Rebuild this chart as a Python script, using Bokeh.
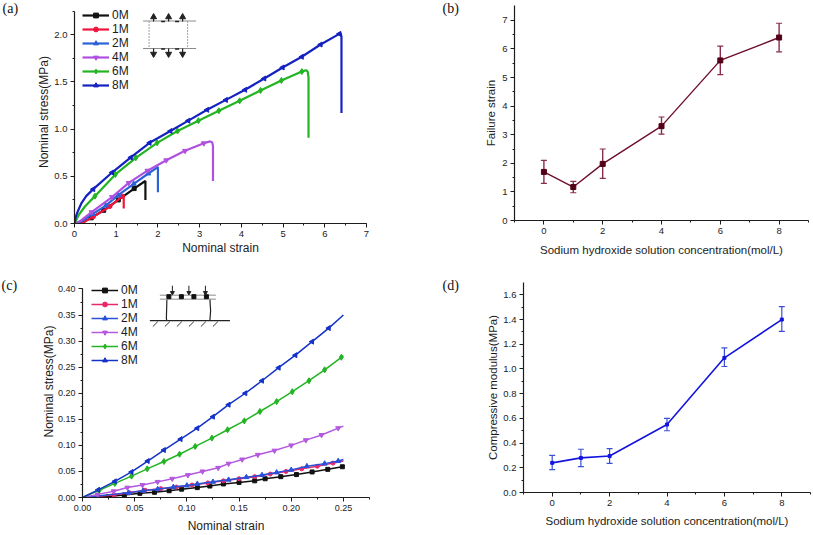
import math
from bokeh.plotting import figure
from bokeh.layouts import column, row
from bokeh.models import (ColumnDataSource, FixedTicker, Label, Legend, LegendItem,
                          NumeralTickFormatter, TeeHead, Whisker)
from bokeh.embed import file_html
from bokeh.resources import INLINE

# ---------- data ----------
series_names = ["0M", "1M", "2M", "4M", "6M", "8M"]

# (a) tensile: marker points, plus line-only start and tail points
a_0m_x = [0.4, 0.7, 1.05, 1.43]
a_0m_y = [0.06, 0.14, 0.25, 0.37]
a_0m_tail_x = [1.66, 1.70, 1.70]
a_0m_tail_y = [0.44, 0.45, 0.25]
a_1m_x = [0.45, 0.85, 1.15]
a_1m_y = [0.07, 0.18, 0.29]
a_1m_tail_x = [1.18, 1.18]
a_1m_tail_y = [0.30, 0.16]
a_2m_x = [0.43, 0.75, 1.05, 1.42, 1.77]
a_2m_y = [0.10, 0.19, 0.30, 0.42, 0.53]
a_2m_tail_x = [1.97, 2.0, 2.0]
a_2m_tail_y = [0.59, 0.60, 0.33]
a_4m_x = [0.41, 0.9, 1.3, 1.75, 2.2, 2.65, 3.1]
a_4m_y = [0.12, 0.28, 0.43, 0.56, 0.67, 0.77, 0.85]
a_4m_tail_x = [3.25, 3.30, 3.32, 3.32]
a_4m_tail_y = [0.87, 0.86, 0.82, 0.45]
a_6m_x = [0.49, 0.98, 1.47, 1.98, 2.47, 2.97, 3.46, 3.96, 4.46, 4.96, 5.45]
a_6m_y = [0.29, 0.52, 0.696, 0.855, 0.98, 1.09, 1.195, 1.30, 1.41, 1.516, 1.61]
a_6m_start_x = [0.0, 0.1, 0.25]
a_6m_start_y = [0.0, 0.09, 0.18]
a_6m_tail_x = [5.55, 5.59, 5.61, 5.61]
a_6m_tail_y = [1.625, 1.61, 1.55, 0.91]
a_8m_x = [0.45, 0.9, 1.35, 1.8, 2.3, 2.73, 3.18, 3.63, 4.09, 4.55, 4.99, 5.45, 5.9, 6.35]
a_8m_y = [0.364, 0.54, 0.70, 0.855, 0.98, 1.09, 1.205, 1.31, 1.417, 1.537, 1.654, 1.767, 1.897, 2.01]
a_8m_start_x = [0.0, 0.03, 0.08, 0.16, 0.28]
a_8m_start_y = [0.0, 0.07, 0.13, 0.21, 0.29]
a_8m_tail_x = [6.38, 6.40, 6.40]
a_8m_tail_y = [2.02, 1.98, 1.17]

# (c) compressive
c_0m_x = [0.025, 0.04, 0.055, 0.069, 0.083, 0.095, 0.11, 0.122, 0.135, 0.15, 0.165, 0.175, 0.19, 0.205, 0.22, 0.235, 0.249]
c_0m_y = [0.002, 0.005, 0.008, 0.01, 0.013, 0.016, 0.019, 0.022, 0.026, 0.029, 0.032, 0.036, 0.04, 0.044, 0.049, 0.054, 0.059]
c_1m_x = [0.03, 0.045, 0.06, 0.075, 0.09, 0.105, 0.12, 0.135, 0.15, 0.165, 0.18, 0.195, 0.21, 0.225, 0.24]
c_1m_y = [0.005, 0.009, 0.014, 0.017, 0.02, 0.024, 0.028, 0.032, 0.036, 0.04, 0.045, 0.05, 0.055, 0.06, 0.066]
c_1m_end_y = 0.07
c_2m_x = [0.044, 0.058, 0.072, 0.087, 0.1, 0.11, 0.125, 0.14, 0.157, 0.172, 0.186, 0.2, 0.215, 0.232, 0.245]
c_2m_y = [0.009, 0.013, 0.016, 0.02, 0.023, 0.026, 0.03, 0.034, 0.039, 0.043, 0.048, 0.053, 0.06, 0.065, 0.07]
c_2m_end_y = 0.073
c_4m_x = [0.0145, 0.03, 0.043, 0.0575, 0.072, 0.086, 0.101, 0.115, 0.13, 0.14, 0.153, 0.168, 0.184, 0.2, 0.214, 0.229, 0.245]
c_4m_y = [0.006, 0.012, 0.019, 0.024, 0.03, 0.036, 0.043, 0.05, 0.057, 0.065, 0.073, 0.082, 0.09, 0.10, 0.11, 0.12, 0.133]
c_4m_end_y = 0.137
c_6m_x = [0.016, 0.031, 0.047, 0.062, 0.078, 0.093, 0.108, 0.124, 0.139, 0.155, 0.17, 0.186, 0.201, 0.217, 0.232, 0.248]
c_6m_y = [0.014, 0.027, 0.041, 0.055, 0.069, 0.083, 0.098, 0.114, 0.13, 0.147, 0.165, 0.184, 0.203, 0.224, 0.245, 0.269]
c_6m_end_y = 0.272
c_8m_x = [0.015, 0.031, 0.047, 0.0625, 0.078, 0.094, 0.11, 0.125, 0.14, 0.156, 0.172, 0.188, 0.204, 0.22, 0.236]
c_8m_y = [0.0146, 0.031, 0.049, 0.07, 0.091, 0.112, 0.133, 0.155, 0.178, 0.2, 0.224, 0.249, 0.273, 0.299, 0.325]
c_8m_end_y = 0.35

# (b) failure strain, (d) compressive modulus
conc = [0, 1, 2, 4, 6, 8]
failure = [1.7, 1.17, 1.98, 3.3, 5.6, 6.4]
failure_lo = [1.3, 0.97, 1.47, 3.02, 5.1, 5.9]
failure_hi = [2.1, 1.37, 2.5, 3.62, 6.1, 6.9]
modulus = [0.24, 0.28, 0.295, 0.55, 1.09, 1.40]
modulus_lo = [0.185, 0.21, 0.235, 0.50, 1.02, 1.305]
modulus_hi = [0.30, 0.35, 0.355, 0.60, 1.17, 1.505]

# ---------- styles ----------
FONT = "Liberation Sans"
INK = "#1c1c1c"
COL_A = ["#111111", "#f0143c", "#2a62d8", "#b050e0", "#22b422", "#1422c0"]
COL_C = ["#111111", "#e8286a", "#2a50d8", "#b458e0", "#22b422", "#1432c8"]
MARK = ["square", "circle", "triangle", "inverted_triangle", "diamond", "triangle"]
ANGLE = [0, 0, 0, 0, 0, math.pi / 2]
MSIZE = [4, 4, 5, 5, 6, 5]


def tag_fig(text, width, height, x, y):
    t = figure(width=width, height=height, output_backend="svg", toolbar_location=None,
               x_axis_type=None, y_axis_type=None, min_border=0, outline_line_color=None,
               x_range=(0, 1), y_range=(0, 1), frame_align=False)
    t.grid.visible = False
    t.add_layout(Label(x=x, y=y, x_units="screen", y_units="screen", text=text,
                       text_font="Liberation Serif", text_font_size="14px", text_color="#111111"))
    return t


def base(width, height, L, R, T, B, xr, yr, xticks, xminor, yticks, yminor, xlabel, ylabel,
         xfmt, yfmt, xstand, ystand, tick_px="9.5px", label_px="12px", ybounds=None):
    p = figure(width=width, height=height, x_range=xr, y_range=yr, output_backend="svg",
               toolbar_location=None, min_border_left=L, min_border_right=R, min_border_top=T,
               min_border_bottom=B, outline_line_color=None, background_fill_color="white",
               border_fill_color="white", frame_align=False)
    p.grid.visible = False
    p.xaxis.ticker = FixedTicker(ticks=xticks, minor_ticks=xminor)
    p.yaxis.ticker = FixedTicker(ticks=yticks, minor_ticks=yminor)
    p.xaxis.formatter = NumeralTickFormatter(format=xfmt)
    p.yaxis.formatter = NumeralTickFormatter(format=yfmt)
    p.xaxis.axis_label = xlabel
    p.yaxis.axis_label = ylabel
    p.xaxis.axis_label_standoff = xstand
    p.yaxis.axis_label_standoff = ystand
    if ybounds is not None:
        p.yaxis.bounds = ybounds
    for ax in (p.xaxis[0], p.yaxis[0]):
        ax.axis_label_text_font = FONT
        ax.axis_label_text_font_style = "normal"
        ax.axis_label_text_font_size = label_px
        ax.axis_label_text_color = INK
        ax.major_label_text_font = FONT
        ax.major_label_text_font_size = tick_px
        ax.major_label_text_color = INK
        ax.major_label_standoff = 3
        ax.axis_line_color = INK
        ax.axis_line_width = 1.2
        ax.major_tick_line_color = INK
        ax.minor_tick_line_color = INK
        ax.major_tick_in = 0
        ax.major_tick_out = 4
        ax.minor_tick_in = 0
        ax.minor_tick_out = 2
    return p


def add_legend(p, items, x, y):
    leg = Legend(items=items, location=(x, y), background_fill_alpha=0, border_line_color=None,
                 label_text_font=FONT, label_text_font_size="12px", label_text_color=INK,
                 glyph_width=27, glyph_height=12, label_standoff=3, spacing=0, padding=0, margin=0,
                 label_height=12)
    p.add_layout(leg)


def curves(p, xs, ys, lxs, lys, colors, lw):
    items = []
    for i, name in enumerate(series_names):
        ln = p.line(lxs[i], lys[i], line_color=colors[i], line_width=lw)
        mk = p.scatter(xs[i], ys[i], marker=MARK[i], size=MSIZE[i], angle=ANGLE[i],
                       fill_color=colors[i], line_color=colors[i])
        items.append(LegendItem(label=name, renderers=[ln, mk]))
    return items


# ---------- panel (a) ----------
pa = base(408, 265, 52, 64, 0, 42, (0, 7), (0, 223 / 94.35), list(range(8)), [i / 2 for i in range(15)],
          [0, 0.5, 1, 1.5, 2], [i * 0.25 for i in range(10)], "Nominal strain", "Nominal stress(MPa)",
          "0", "0.0", 1, 0, ybounds=(0, 2.247))
a_mx = [a_0m_x, a_1m_x, a_2m_x, a_4m_x, a_6m_x, a_8m_x]
a_my = [a_0m_y, a_1m_y, a_2m_y, a_4m_y, a_6m_y, a_8m_y]
a_lx = [[0.0, 0.2] + a_0m_x + a_0m_tail_x, [0.0, 0.2] + a_1m_x + a_1m_tail_x,
        [0.0, 0.2] + a_2m_x + a_2m_tail_x, [0.0, 0.15] + a_4m_x + a_4m_tail_x,
        a_6m_start_x + a_6m_x + a_6m_tail_x, a_8m_start_x + a_8m_x + a_8m_tail_x]
a_ly = [[0.0, 0.01] + a_0m_y + a_0m_tail_y, [0.0, 0.01] + a_1m_y + a_1m_tail_y,
        [0.0, 0.03] + a_2m_y + a_2m_tail_y, [0.0, 0.03] + a_4m_y + a_4m_tail_y,
        a_6m_start_y + a_6m_y + a_6m_tail_y, a_8m_start_y + a_8m_y + a_8m_tail_y]
add_legend(pa, curves(pa, a_mx, a_my, a_lx, a_ly, COL_A, 2.2), 8, 131)


def adx(px):
    return (px - 74.5) / 41.67


def ady(py):
    return (223 - py) / 94.35


for py in (20.5, 48):
    pa.line([adx(143), adx(196)], [ady(py), ady(py)], line_color="#8c8c8c", line_width=1)
for px in (149, 187.5):
    pa.line([adx(px), adx(px)], [ady(20.5), ady(48)], line_color="#a0a0a0", line_width=1, line_dash="2 1")
for px in (153.5, 168.5, 182.5):
    pa.line([adx(px), adx(px)], [ady(21), ady(16)], line_color="#222222", line_width=1.2)
    pa.scatter([adx(px)], [ady(16.5)], marker="triangle", size=6, fill_color="#222222", line_color="#222222")
    pa.line([adx(px), adx(px)], [ady(48), ady(54)], line_color="#222222", line_width=1.2)
    pa.scatter([adx(px)], [ady(53.5)], marker="inverted_triangle", size=6, fill_color="#222222", line_color="#222222")
for px in (163, 177):
    for py in (21, 48.5):
        pa.line([adx(px - 2), adx(px + 2)], [ady(py), ady(py)], line_color="#222222", line_width=1.4)

# ---------- panel (b) ----------
pb = base(351, 265, 52, 5, 5, 45, (-1, 9), (0, 7.52), [0, 2, 4, 6, 8], [-1, 1, 3, 5, 7, 9],
          list(range(8)), [i / 2 for i in range(15)],
          "Sodium hydroxide solution concentration(mol/L)", "Failure strain",
          "0", "0", 7, 2, label_px="11.5px")
MAROON = "#6e0f2c"
src_b = ColumnDataSource(dict(x=conc, y=failure, lo=failure_lo, hi=failure_hi))
pb.add_layout(Whisker(source=src_b, base="x", upper="hi", lower="lo", line_color="#8a2c4a", line_width=1.4,
                      upper_head=TeeHead(size=6, line_color="#8a2c4a", line_width=1.2),
                      lower_head=TeeHead(size=6, line_color="#8a2c4a", line_width=1.2)))
pb.line("x", "y", source=src_b, line_color=MAROON, line_width=1.4)
pb.scatter("x", "y", source=src_b, marker="square", size=5, fill_color="#520018", line_color="#520018")

# ---------- panel (c) ----------
pc = base(408, 270, 60, 61, 0, 37, (0, 0.275), (0, 233 / 523.5), [i * 0.05 for i in range(6)],
          [i * 0.025 for i in range(12)], [i * 0.05 for i in range(9)], [i * 0.025 for i in range(17)],
          "Nominal strain", "Nominal stress(MPa)", "0.00", "0.00", 5, -1, tick_px="9px", ybounds=(0, 0.40))
c_mx = [c_0m_x, c_1m_x, c_2m_x, c_4m_x, c_6m_x, c_8m_x]
c_my = [c_0m_y, c_1m_y, c_2m_y, c_4m_y, c_6m_y, c_8m_y]
c_lx = [[0.0] + c_0m_x, [0.0] + c_1m_x + [0.25], [0.0] + c_2m_x + [0.25], [0.0] + c_4m_x + [0.25],
        [0.0] + c_6m_x + [0.25], [0.0] + c_8m_x + [0.25]]
c_ly = [[0.0] + c_0m_y, [0.0] + c_1m_y + [c_1m_end_y], [0.0] + c_2m_y + [c_2m_end_y],
        [0.0] + c_4m_y + [c_4m_end_y], [0.0] + c_6m_y + [c_6m_end_y], [0.0] + c_8m_y + [c_8m_end_y]]
add_legend(pc, curves(pc, c_mx, c_my, c_lx, c_ly, COL_C, 1.5), 9, 130)


def cdx(px):
    return (px - 81.7) / 1042.7


def cdy(py):
    return (497.7 - py) / 523.5


for py in (294.5, 298.5):
    pc.line([cdx(159), cdx(215)], [cdy(py), cdy(py)], line_color="#8c8c8c", line_width=1)
for px in (168, 180.5, 193, 205.5):
    pc.scatter([cdx(px)], [cdy(296)], marker="square", size=4, fill_color="#111111", line_color="#111111")
for px in (171.5, 188, 204.5):
    pc.line([cdx(px), cdx(px)], [cdy(285), cdy(293)], line_color="#222222", line_width=1)
    pc.scatter([cdx(px)], [cdy(292)], marker="inverted_triangle", size=4, fill_color="#222222", line_color="#222222")
pc.line([cdx(166), cdx(165.5), cdx(166)], [cdy(299), cdy(318), cdy(320)], line_color="#222222", line_width=1.2)
pc.line([cdx(209), cdx(209.7), cdx(209)], [cdy(299), cdy(310), cdy(320)], line_color="#222222", line_width=1.2)
pc.line([cdx(149), cdx(229)], [cdy(320), cdy(320)], line_color="#222222", line_width=1.2)
for px in (157, 169, 181, 193, 205, 217):
    pc.line([cdx(px), cdx(px - 5)], [cdy(321), cdy(326)], line_color="#333333", line_width=1)

# ---------- panel (d) ----------
pd_ = base(351, 270, 61, 3, 17, 43, (-1, 9), (0, 1.7), [0, 2, 4, 6, 8], [-1, 1, 3, 5, 7, 9],
           [i * 0.2 for i in range(9)], [i * 0.1 for i in range(17)],
           "Sodium hydroxide solution concentration(mol/L)", "Compressive modulus(MPa)",
           "0", "0.0", 6, 1, label_px="11.5px")
BLUE = "#1414e0"
src_d = ColumnDataSource(dict(x=conc, y=modulus, lo=modulus_lo, hi=modulus_hi))
pd_.add_layout(Whisker(source=src_d, base="x", upper="hi", lower="lo", line_color="#3a50d8", line_width=1.2,
                       upper_head=TeeHead(size=6, line_color="#3a50d8", line_width=1.2),
                       lower_head=TeeHead(size=6, line_color="#3a50d8", line_width=1.2)))
pd_.line("x", "y", source=src_d, line_color=BLUE, line_width=1.6)
pd_.scatter("x", "y", source=src_d, marker="square", size=3, fill_color=BLUE, line_color=BLUE)

top = row(tag_fig("(a)", 22, 265, 2, 250), pa, tag_fig("(b)", 32, 265, 12, 250), pb, spacing=0)
bottom = row(tag_fig("(c)", 22, 270, 1, 243), pc, tag_fig("(d)", 32, 270, 12, 243), pd_, spacing=0)
page = column(top, bottom, spacing=0)
open("out.html", "w").write(file_html(page, INLINE))
